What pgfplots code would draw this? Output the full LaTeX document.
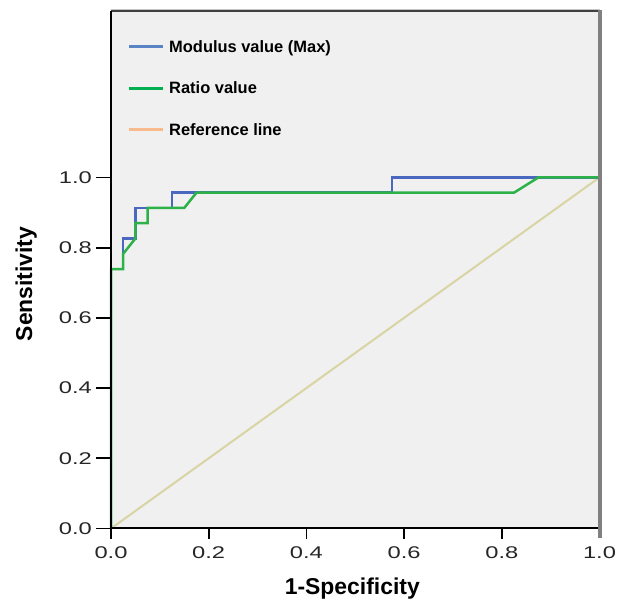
\documentclass[border=0pt]{standalone}
\usepackage{fontspec}
\setmainfont{Liberation Sans}
\newfontfamily\tickfont[FakeStretch=1.4]{Liberation Sans}
\usepackage{pgfplots}
\pgfplotsset{compat=1.18}

\definecolor{modblue}{HTML}{4A68C0}
\definecolor{ratiogreen}{HTML}{2DB24A}
\definecolor{refline}{HTML}{D9D4A3}
\definecolor{legblue}{HTML}{5A84C6}
\definecolor{leggreen}{HTML}{00B050}
\definecolor{legref}{HTML}{F8B98C}
\definecolor{panel}{HTML}{F0F0F0}

\begin{document}
\begin{tikzpicture}[x=1bp,y=1bp]
\useasboundingbox (0,0) rectangle (617,600);
\begin{axis}[
  at={(111bp,71.5bp)}, anchor=south west,
  scale only axis, width=488.5bp, height=517.5bp,
  xmin=0, xmax=1, ymin=0, ymax=1.474,
  clip=false,
  axis background/.style={fill=panel},
  axis line style={draw=none},
  xtick={0,0.2,0.4,0.6,0.8,1}, ytick={0,0.2,0.4,0.6,0.8,1},
  minor tick num=0,
  xtick pos=bottom, ytick pos=left,
  tick align=outside, major tick length=13bp,
  major tick style={draw=none},
  /pgf/number format/.cd, fixed, fixed zerofill, precision=1, assume math mode=true,
  /pgfplots/.cd,
  ticklabel style={font=\tickfont\fontsize{17}{20}\selectfont, text=black!85},
  xticklabel style={anchor=base, inner sep=0pt, yshift=-17bp},
  yticklabel style={anchor=east, inner sep=0pt, xshift=-6bp},
  label style={font=\bfseries\fontsize{23}{26}\selectfont},
  xlabel={1-Specificity}, ylabel={Sensitivity},
  xlabel style={at={(axis description cs:0.494,-0.1272)}, anchor=base},
  ylabel style={at={(axis description cs:-0.1617,0.4725)}, anchor=base},
  legend style={draw=none, fill=none, at={(axis description cs:0.0334,0.944)},
    anchor=north west, inner sep=0pt, row sep=25.5bp, column sep=5bp,
    font=\bfseries\fontsize{16.5}{19}\selectfont,
    nodes={inner sep=0pt, text height=12bp, text depth=4bp}},
  legend cell align=left,
  legend image code/.code={\draw[#1, line width=3bp] (0bp,1.5bp) -- (33.7bp,1.5bp);},
  after end axis/.code={
    \draw[gray!45, line width=1.5bp] ([yshift=1.5bp]rel axis cs:0,1) -- ([yshift=1.5bp]rel axis cs:1,1);
    \draw[black!75, line width=1.5bp] (rel axis cs:0,1) -- (rel axis cs:1,1);
    \draw[black, line width=2bp] (rel axis cs:0,1) -- (rel axis cs:0,0) -- (rel axis cs:1,0);
    \foreach \t in {0,0.2,0.4,0.6,0.8} {
      \draw[black, line width=1.8bp] (axis cs:\t,0) -- ++(0bp,-11bp);
      \draw[black, line width=1.8bp] (axis cs:0,\t) -- ++(-15bp,0bp);
    }
    \draw[black, line width=1.8bp] (axis cs:0,1) -- ++(-15bp,0bp);
    \draw[black!50, line width=4bp] ([yshift=-10bp]rel axis cs:1,0) -- ([yshift=1bp]rel axis cs:1,1);
  },
]
% reference diagonal
\addplot[refline, line width=2bp, forget plot] coordinates {(0,0) (1,1)};
% Modulus value (Max)
\addplot[modblue, line width=2.5bp, forget plot] coordinates {
  (0,0) (0,0.7391) (0.025,0.7391) (0.025,0.8261) (0.05,0.8261)
  (0.05,0.9130) (0.125,0.9130) (0.125,0.9565) (0.575,0.9565)
  (0.575,1) (1,1)
};
% Ratio value
\addplot[ratiogreen, line width=2.5bp, forget plot] coordinates {
  (0,0) (0,0.7391) (0.025,0.7391) (0.025,0.7826) (0.05,0.8261)
  (0.05,0.8696) (0.075,0.8696) (0.075,0.9130) (0.15,0.9130)
  (0.175,0.9565) (0.825,0.9565) (0.875,1) (1,1)
};
\addlegendimage{legblue}
\addlegendentry{Modulus value (Max)}
\addlegendimage{leggreen}
\addlegendentry{Ratio value}
\addlegendimage{legref}
\addlegendentry{Reference line}
\end{axis}
\end{tikzpicture}
\end{document}
